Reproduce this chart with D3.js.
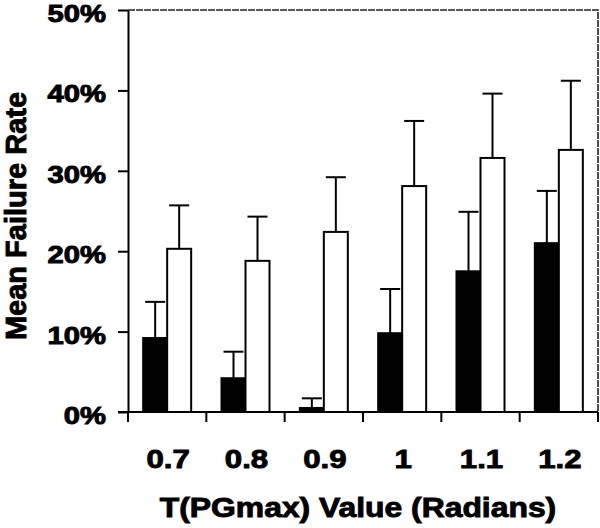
<!DOCTYPE html>
<html>
<head>
<meta charset="utf-8">
<script src="https://cdn.jsdelivr.net/npm/d3@7"></script>
<style>
  html, body { margin: 0; padding: 0; background: #fff; }
  svg text { font-family: "Liberation Sans", Arial, Helvetica, sans-serif; font-weight: bold; fill: #000; stroke: #000; stroke-width: 0.9px; }
</style>
</head>
<body>
<svg id="chart" width="600" height="528"></svg>
<script>
// ---- data ----
const categories = ["0.7", "0.8", "0.9", "1", "1.1", "1.2"];
const seriesNames = ["black", "white"];
const blackValues = [0.092, 0.042, 0.005, 0.098, 0.175, 0.210];
const blackErrors = [0.045, 0.033, 0.012, 0.055, 0.074, 0.065];
const whiteValues = [0.203, 0.188, 0.224, 0.281, 0.316, 0.326];
const whiteErrors = [0.054, 0.055, 0.068, 0.081, 0.080, 0.086];
const yTickValues = [0, 0.1, 0.2, 0.3, 0.4, 0.5];
const xTitle = "T(PGmax) Value (Radians)";
const yTitle = "Mean Failure Rate";

// ---- layout ----
const svg = d3.select("#chart");
const pLeft = 128, pRight = 598, pTop = 10, pBottom = 412;

const x = d3.scaleBand().domain(categories).range([pLeft, pRight]).padding(0);
const bw = x.bandwidth();
const sub = d3.scaleBand().domain(seriesNames).range([bw / 2 - 24, bw / 2 + 24]).padding(0);
const y = d3.scaleLinear().domain([0, 0.5]).range([pBottom, pTop]);

const fills = { black: "#000", white: "#fff" };
const rows = [];
categories.forEach((c, i) => {
  rows.push({ cat: c, s: "black", v: blackValues[i], e: blackErrors[i] });
  rows.push({ cat: c, s: "white", v: whiteValues[i], e: whiteErrors[i] });
});

// plot frame (top and right, thin dotted-looking)
svg.append("path")
  .attr("d", `M${pLeft},${pTop}H${pRight}V${pBottom}`)
  .attr("fill", "none").attr("stroke", "#222").attr("stroke-width", 1.6)
  .attr("stroke-dasharray", "7 1");

// error bars
const eb = svg.append("g").attr("stroke", "#000").attr("stroke-width", 2).attr("fill", "none");
rows.forEach(r => {
  const cx = x(r.cat) + sub(r.s) + sub.bandwidth() / 2;
  const y0 = y(r.v), y1 = y(r.v + r.e);
  eb.append("line").attr("x1", cx).attr("x2", cx).attr("y1", y0).attr("y2", y1);
  eb.append("line").attr("x1", cx - 10).attr("x2", cx + 10).attr("y1", y1).attr("y2", y1);
});

// bars
svg.append("g").selectAll("rect").data(rows).join("rect")
  .attr("x", d => x(d.cat) + sub(d.s))
  .attr("width", sub.bandwidth())
  .attr("y", d => y(d.v))
  .attr("height", d => y(0) - y(d.v))
  .attr("fill", d => fills[d.s])
  .attr("stroke", "#000").attr("stroke-width", 2);

// y axis
const yAxis = svg.append("g").attr("transform", `translate(${pLeft},0)`)
  .call(d3.axisLeft(y).tickValues(yTickValues).tickSize(10).tickSizeOuter(0).tickFormat(""));
yAxis.selectAll("path, line").attr("stroke", "#000").attr("stroke-width", 2);
yAxis.selectAll("text").remove();

yTickValues.forEach(t => {
  svg.append("g").attr("transform", `translate(106,${y(t) + 12}) scale(1.27,1)`)
    .append("text").attr("text-anchor", "end").attr("font-size", 23)
    .text(d3.format(".0%")(t));
});

// x axis line and boundary ticks
svg.append("line").attr("x1", pLeft - 10).attr("x2", pRight).attr("y1", pBottom).attr("y2", pBottom)
  .attr("stroke", "#000").attr("stroke-width", 2);
const bounds = categories.map(c => x(c)).concat([x.range()[1]]);
svg.append("g").selectAll("line").data(bounds).join("line")
  .attr("x1", d => d).attr("x2", d => d).attr("y1", pBottom).attr("y2", pBottom + 10)
  .attr("stroke", "#000").attr("stroke-width", 2);

categories.forEach(c => {
  svg.append("g").attr("transform", `translate(${x(c) + bw / 2 + 1},468) scale(1.2,1)`)
    .append("text").attr("text-anchor", "middle").attr("font-size", 26).text(c);
});

// titles
svg.append("g").attr("transform", `translate(358,517) scale(1.18,1)`)
  .append("text").attr("text-anchor", "middle").attr("font-size", 27).text(xTitle);

svg.append("text").attr("transform", `translate(26,216) rotate(-90)`)
  .attr("text-anchor", "middle").attr("font-size", 29).text(yTitle);
</script>
</body>
</html>
